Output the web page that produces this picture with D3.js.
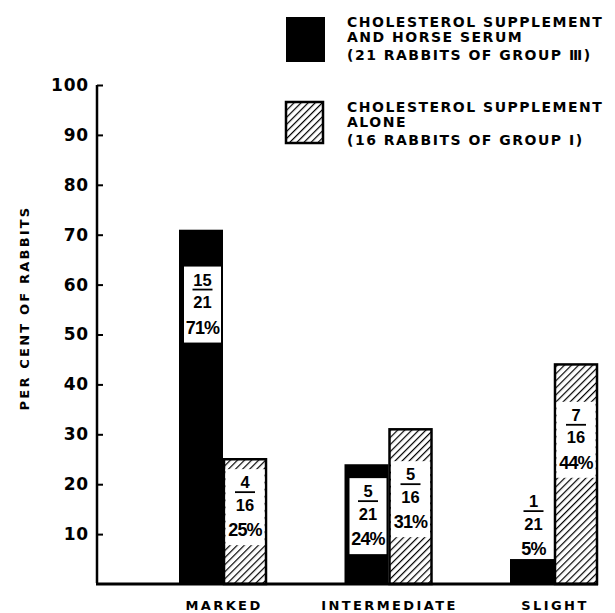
<!DOCTYPE html>
<html>
<head>
<meta charset="utf-8">
<script src="https://cdn.jsdelivr.net/npm/d3@7"></script>
<style>
  body { margin: 0; background: #fff; }
  text { font-family: "DejaVu Sans", sans-serif; font-weight: bold; fill: #000; }
  .num { font-family: "Liberation Sans", sans-serif; }
</style>
</head>
<body>
<svg id="chart" width="615" height="613"></svg>
<script>
// data
const categories = ["MARKED", "INTERMEDIATE", "SLIGHT"];
const series = ["serum", "alone"];
const serumValues = [71, 24, 5];       // per cent, group III
const aloneValues = [25, 31, 44];      // per cent, group I
const serumCounts = [15, 5, 1];        // of 21
const aloneCounts = [4, 5, 7];         // of 16
const totals = [21, 16];
const serumLabelAt = [56, 13.6, 11.6]; // where the fraction box sits (per cent)
const aloneLabelAt = [15.4, 17, 28.9];
const yTicks = [10, 20, 30, 40, 50, 60, 70, 80, 90, 100];
const legendLines = [
    ["CHOLESTEROL SUPPLEMENT", "AND HORSE SERUM", "(21 RABBITS OF GROUP Ⅲ)"],
    ["CHOLESTEROL SUPPLEMENT", "ALONE", "(16 RABBITS OF GROUP I)"]
];

const svg = d3.select("#chart");

// hatch pattern
const defs = svg.append("defs");
const pat = defs.append("pattern")
    .attr("id", "hatch")
    .attr("patternUnits", "userSpaceOnUse")
    .attr("width", 5)
    .attr("height", 5)
    .attr("patternTransform", "rotate(45)");
pat.append("rect").attr("width", 5).attr("height", 5).attr("fill", "#fff");
pat.append("line")
    .attr("x1", 0).attr("y1", 0).attr("x2", 0).attr("y2", 5)
    .attr("stroke", "#000").attr("stroke-width", 2.4);

// scales
const y = d3.scaleLinear().domain([0, 100]).range([584, 85]);
const x = d3.scalePoint().domain(categories).range([223, 554]);
const inner = d3.scaleBand().domain(series).range([-44, 44]);

// axis
const yAxis = d3.axisLeft(y)
    .tickValues(yTicks)
    .tickSize(-6)
    .tickSizeOuter(0)
    .tickPadding(8);
const gy = svg.append("g")
    .attr("transform", "translate(97,0)")
    .call(yAxis);
gy.select(".domain").attr("stroke-width", 2.5).attr("d", `M0,${y(100)}V${y(0) - 1}`);
gy.selectAll(".tick line").attr("stroke-width", 2);
gy.selectAll(".tick text")
    .style("font-size", "17px")
    .style("letter-spacing", "0.8px")
    .attr("fill", "#000");

// y label
svg.append("text")
    .attr("transform", "translate(29,308) rotate(-90)")
    .attr("text-anchor", "middle")
    .style("font-size", "13px")
    .style("letter-spacing", "2.2px")
    .text("PER CENT OF RABBITS");

// bars
const rows = categories.map((c, i) => ({
    cat: c,
    bars: [
        {s: "serum", v: serumValues[i], n: serumCounts[i], tot: totals[0], at: serumLabelAt[i]},
        {s: "alone", v: aloneValues[i], n: aloneCounts[i], tot: totals[1], at: aloneLabelAt[i]}
    ]
}));

const groups = svg.append("g").selectAll("g")
    .data(rows)
    .join("g")
    .attr("transform", d => `translate(${x(d.cat)},0)`);

const bar = groups.selectAll("g.bar")
    .data(d => d.bars)
    .join("g")
    .attr("class", "bar");

bar.append("rect")
    .attr("x", d => inner(d.s) + (d.s === "alone" ? 1 : 0))
    .attr("y", d => y(d.v))
    .attr("width", d => inner.bandwidth() - (d.s === "alone" ? 2 : 0))
    .attr("height", d => y(0) - y(d.v))
    .attr("fill", d => d.s === "serum" ? "#000" : "url(#hatch)")
    .attr("stroke", d => d.s === "alone" ? "#000" : "none")
    .attr("stroke-width", 2.5);

// fraction boxes
const boxH = 76;
bar.filter(d => d.v > 10).append("rect")
    .attr("x", d => inner(d.s) + (d.s === "serum" ? 5 : 2.5))
    .attr("y", d => y(d.at) - boxH / 2)
    .attr("width", d => inner.bandwidth() - (d.s === "serum" ? 7 : 5))
    .attr("height", boxH)
    .attr("fill", "#fff");

const lab = bar.append("g")
    .attr("transform", d => `translate(${inner(d.s) + inner.bandwidth() / 2 + (d.s === "serum" ? 1.5 : 0)},${y(d.at)})`);

lab.append("text")
    .attr("class", "num")
    .attr("text-anchor", "middle")
    .attr("y", -19)
    .style("font-size", "16.5px")
    .text(d => d.n);
lab.append("line")
    .attr("x1", -10).attr("x2", 10)
    .attr("y1", -15).attr("y2", -15)
    .attr("stroke", "#000")
    .attr("stroke-width", 1.8);
lab.append("text")
    .attr("class", "num")
    .attr("text-anchor", "middle")
    .attr("y", 3.5)
    .style("font-size", "16.5px")
    .text(d => d.tot);
lab.append("text")
    .attr("class", "num")
    .attr("text-anchor", "middle")
    .attr("y", 29)
    .style("font-size", "18px")
    .style("letter-spacing", "-0.8px")
    .text(d => Math.round(d.n / d.tot * 100) + "%");

// baseline
svg.append("line")
    .attr("x1", 96).attr("x2", x(categories[2]) + inner.range()[1])
    .attr("y1", y(0)).attr("y2", y(0))
    .attr("stroke", "#000")
    .attr("stroke-width", 3);

// category labels
svg.append("g").selectAll("text")
    .data(categories)
    .join("text")
    .attr("x", d => x(d) + 1)
    .attr("y", 610)
    .attr("text-anchor", "middle")
    .style("font-size", "13px")
    .style("letter-spacing", "2.4px")
    .text(d => d);

// legend
const legend = svg.append("g");
const legY = [17, 102];
const legH = [45, 41];
legendLines.forEach((lines, i) => {
    legend.append("rect")
        .attr("x", 286).attr("y", legY[i])
        .attr("width", i === 0 ? 39 : 37)
        .attr("height", legH[i])
        .attr("fill", i === 0 ? "#000" : "url(#hatch)")
        .attr("stroke", i === 0 ? "none" : "#000")
        .attr("stroke-width", 2.5);
    lines.forEach((t, j) => {
        legend.append("text")
            .attr("x", 347)
            .attr("y", legY[i] + 10 + j * 15 + (j === 2 ? 3 : 0))
            .style("font-size", "14px")
            .style("letter-spacing", "1.5px")
            .text(t);
    });
});
</script>
</body>
</html>
